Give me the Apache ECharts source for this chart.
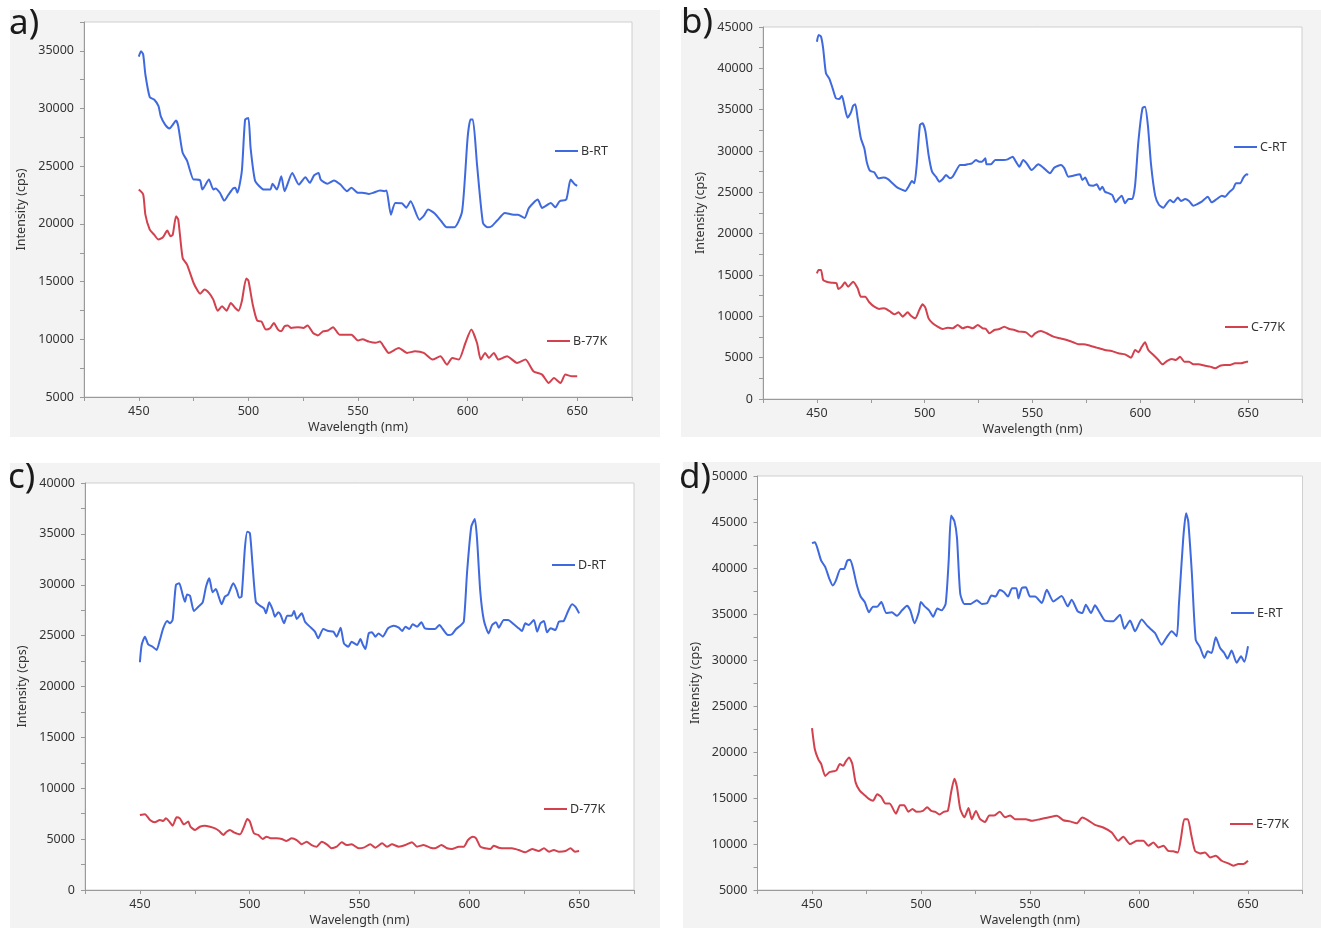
<!DOCTYPE html>
<html><head><meta charset="utf-8">
<script src="https://cdn.jsdelivr.net/npm/echarts@6/dist/echarts.min.js"></script>
<style>html,body{margin:0;padding:0;background:#fff}#c{width:1321px;height:928px}</style>
</head><body><div id="c"></div>
<script>
// ---- data: [wavelength (nm), intensity (cps)] ----
const B_RT = [[450,34500],[451,34970],[452,34680],[453,32950],[455,30990],[457,30780],[459,30200],[460,29340],[462,28610],[464,28270],[465,28470],[467,28960],[468,28470],[470,26160],[472,25490],[475,23840],[476,23840],[478,23770],[479,22980],[482,23840],[484,22980],[485,23070],[487,22700],[489,22020],[491,22560],[493,23070],[494,23130],[495,22700],[497,24570],[498.5,29040],[500,29180],[501,26590],[503,23770],[505,23270],[507,22980],[510,22980],[511,23480],[513,22980],[515,24140],[516.5,22840],[520,24420],[523,23410],[526,24050],[528,23560],[530,24220],[532,24420],[533,23840],[536,23480],[539,23770],[542,23410],[545,22840],[547,23130],[550,22700],[552,22700],[555,22600],[557,22700],[560,22900],[562,22840],[563,22900],[565,20800],[567,21820],[570,21800],[572,21400],[574,21970],[578,20370],[580,20700],[582,21240],[585,20900],[588,20230],[590.5,19710],[594,19710],[597.5,21100],[600,27460],[601.3,29040],[602.4,29040],[604.3,25140],[607,20090],[609,19710],[611,19800],[613.5,20290],[617,20950],[621,20800],[623,20800],[626,20520],[628,21390],[632,22110],[634,21390],[638,21820],[640,21440],[642,21970],[645,22110],[647,23840],[649,23410],[650,23300]];
const B_77K = [[450,22980],[452,22560],[453,20810],[455,19510],[457,19070],[459,18640],[461,18840],[463,19420],[464.5,18930],[465.5,19070],[467,20670],[468,20380],[470,17050],[472,16470],[475,14880],[477,14160],[478,13950],[480,14310],[482,14020],[484,13440],[486,12480],[488,12860],[490,12480],[492,13150],[494,12710],[495.5,12480],[497,13290],[499,15260],[500,15090],[502,13000],[504,11620],[506,11530],[508,10840],[510,10980],[511.6,11420],[513.5,10840],[515,10690],[516.5,11130],[518,11200],[519.5,10980],[522.6,11050],[525,10980],[527,11200],[529.5,10550],[531.7,10340],[534,10690],[536.3,10760],[538.6,11050],[541.6,10400],[544.7,10400],[547,10400],[550,9900],[552,10000],[555,9800],[558,9700],[560,9800],[562,9300],[564,8820],[568.6,9250],[572.4,8820],[576,8960],[580,8820],[584,8240],[587.6,8530],[590.6,7800],[593,8390],[596,8240],[599,9680],[601.7,10840],[604.3,9680],[606,8240],[608,8820],[609.7,8390],[612,8820],[614,8240],[618,8530],[622.6,7950],[626.4,8240],[630,7230],[634,6940],[637,6210],[639.4,6650],[642.4,6210],[644.6,6940],[647.7,6790],[650,6790]];
const C_RT = [[450,43220],[450.8,44030],[451.9,43830],[452.9,42420],[454.2,39400],[455.7,38790],[457.3,37580],[458.8,36380],[460.4,36300],[461.6,36690],[462.7,35570],[464.2,34030],[465.8,34680],[466.8,35480],[467.8,35650],[468.9,33960],[470.4,31540],[472,30330],[473.1,28710],[474.6,27620],[476.6,27420],[478.6,26700],[480.8,26780],[482.8,26620],[485.1,26090],[487.4,25560],[489.8,25280],[491,25160],[492.5,25680],[494.1,26370],[495.2,26090],[496.3,28310],[497.8,33150],[499,33350],[500.3,32420],[501.8,29520],[503.4,27500],[505.2,26890],[506.8,26290],[508.3,26580],[509.9,27100],[511.7,26700],[513,26900],[514.5,27580],[516.4,28310],[518.4,28310],[519.9,28390],[521.9,28510],[523.8,28910],[525.3,28710],[526.6,28710],[528.1,29120],[528.7,28390],[530.7,28390],[532.7,28910],[534.6,28910],[536.5,28910],[538.5,28990],[540.8,29310],[542.3,28710],[543.9,28100],[545.7,28910],[547.3,28510],[549.6,27700],[552.7,28390],[555,27990],[558.1,27300],[560.1,27990],[563.2,28310],[564.8,27900],[566.6,26890],[568.9,27010],[572,27180],[573.1,26490],[574.4,26780],[576.2,25890],[578.2,25810],[579.8,25970],[581.3,25280],[582.4,25680],[583.6,25080],[585.5,24880],[587,24680],[588.6,23790],[589.8,24190],[591.4,24600],[592.9,23670],[594.5,24190],[596.3,24190],[597.6,25890],[599.1,31130],[601,35170],[602.2,35360],[603.5,33150],[605,28310],[606.9,24600],[608.7,23470],[610.7,23150],[612.3,23670],[613.8,24070],[615.4,23790],[617.4,24360],[618.9,23950],[620.8,24190],[622.6,23950],[624.6,23390],[626.2,23550],[628.5,23870],[631.3,24470],[633.1,23790],[635.5,24190],[637.8,24600],[639.3,24470],[641.2,25000],[643.2,25490],[644.3,26090],[646.3,26090],[647.8,26780],[649.4,27180],[650,27100]];
const C_77K = [[450,15200],[450.8,15600],[451.9,15600],[452.9,14400],[454.5,14190],[456.8,14070],[459.1,13990],[459.9,13310],[461.5,13590],[463,14110],[464.5,13590],[466.8,14190],[468.9,13390],[470.4,12380],[472.4,12380],[474.3,11700],[476.6,11170],[478.9,10900],[481.2,10970],[483.6,10650],[485.9,10240],[487.9,10480],[489.8,9960],[492.1,10480],[493.6,10080],[495.6,9760],[497.5,10770],[499,11450],[500.3,11050],[501.8,9760],[503.7,9150],[506,8750],[508.3,8470],[510.6,8630],[513,8550],[515.3,8950],[517.6,8550],[519.9,8750],[522.3,8550],[524.6,8950],[526.9,8550],[528.4,8470],[530,7950],[532.3,8350],[534.6,8470],[536.9,8750],[539.3,8470],[541.6,8350],[543.9,8150],[547,8060],[549.6,7540],[551.2,7950],[553.9,8230],[556.6,7950],[559.7,7540],[562.8,7340],[565.9,7140],[568.9,6860],[571.3,6620],[573.6,6620],[576.7,6450],[579.8,6210],[583.6,5930],[586.7,5810],[589.8,5530],[592.9,5400],[595.7,5000],[597.6,5930],[599.1,5650],[600.7,6330],[602.2,6860],[603.7,5930],[606.1,5320],[608.4,4720],[610.3,4190],[612.3,4590],[614.6,4840],[616.5,4720],[618.4,5120],[620.4,4520],[622.6,4520],[624.6,4190],[626.9,4190],[630,4030],[632.4,3920],[634.7,3710],[637,4030],[639.3,4110],[641.6,4110],[643.9,4310],[646.7,4310],[649.4,4520],[650,4500]];
const D_RT = [[450,22380],[450.8,24080],[452.3,24900],[453.8,24140],[455.8,23910],[457.6,23590],[459.1,24570],[460.6,25720],[462.4,26440],[463.7,26210],[464.9,26540],[466.4,29980],[467.9,30140],[469.5,28990],[470.5,28330],[471.5,29050],[472.8,28920],[474.6,27420],[476.6,27840],[478.6,28270],[480.1,29810],[481.6,30630],[483.1,29260],[484.6,29590],[485.9,28830],[487.2,28080],[488.7,28830],[490.2,29050],[492.5,30140],[494.1,29480],[495.2,28720],[496.3,28830],[497.8,33580],[498.9,35220],[500.1,35060],[501.3,31940],[502.8,28330],[504.7,27940],[506.5,27680],[507.4,27190],[508.9,28270],[510.5,27520],[511.5,26860],[513,27290],[514.1,27030],[515.6,26210],[517.1,26960],[519.1,26960],[520.2,27420],[521.4,26640],[523.7,27190],[525.2,26370],[527.4,25880],[529.7,25390],[531.2,24740],[533.5,25650],[535.8,25460],[538.1,25390],[539.6,24900],[541.4,25780],[542.9,24240],[544.9,23910],[546.4,24410],[548.9,24080],[550.4,24670],[551.6,24080],[552.7,23690],[554.2,25220],[555.7,25320],[557.2,24900],[558.7,25220],[560.6,24900],[563,25720],[565.6,25980],[567.9,25780],[569.4,25460],[570.9,25880],[572.7,25650],[574.2,26110],[576.2,25880],[578.2,26310],[579.7,25720],[581.8,25650],[584.3,25650],[586.4,26050],[587.9,25650],[590.3,25060],[592.1,25130],[594,25650],[595.9,25980],[597.5,26370],[599,31280],[600.9,35700],[602.5,36460],[603.5,34580],[605,29320],[606.6,26540],[608.8,25220],[610.4,26050],[612.2,26310],[613.4,25780],[615.7,26540],[617.7,26540],[620.3,26110],[622.5,25720],[624,25460],[625.5,26210],[627.1,26050],[629.4,26540],[630.9,25390],[632.4,26210],[634,26440],[635.4,25320],[637,25720],[639.2,25550],[640.8,26370],[643,26440],[645,27420],[646.8,28080],[648.3,27840],[650,27190]];
const D_77K = [[450,7370],[452.3,7440],[454.6,6880],[456.8,6650],[459.1,6880],[460.6,6780],[461.8,7040],[463.4,6720],[464.9,6320],[466.7,7140],[468.2,7040],[470,6450],[472,6720],[473,6220],[475.1,5900],[477.3,6220],[479.6,6320],[481.9,6220],[484.2,6060],[486.1,5800],[488,5410],[489.5,5730],[491,5900],[492.8,5670],[495.6,5480],[497.4,6220],[498.9,6980],[500.1,6720],[501.9,5570],[503.9,5410],[505.9,5010],[507.7,5240],[509.5,5080],[512.3,5080],[514.6,5010],[516.8,4820],[519.1,5080],[521.4,4910],[523.7,4490],[525.9,4750],[528.2,4420],[530.5,4260],[532.8,4750],[535.1,4490],[537.3,4100],[539.6,4260],[541.9,4690],[544.2,4420],[546.4,4490],[549.6,4100],[551.9,4160],[554.9,4490],[557.2,4160],[560.3,4590],[562.5,4260],[564.8,4490],[567.9,4260],[570.9,4420],[573.9,4690],[576.2,4260],[579.2,4420],[582.3,4160],[584.5,4100],[587.3,4420],[589.9,4100],[592.1,4030],[595.2,4260],[597.5,4260],[599.4,4910],[601.6,5240],[603.1,5080],[605,4260],[607.3,4100],[609.6,4030],[611.1,4360],[613.4,4160],[616.4,4100],[619.4,4100],[622.5,3930],[625.5,3700],[628.6,4030],[631.6,3830],[634,4100],[636.3,3770],[638.5,3930],[640.8,3770],[643.8,3830],[646.1,4100],[648.1,3770],[650,3830]];
const E_RT = [[450,42700],[451.3,42800],[452.3,42300],[454.2,40800],[456.1,40100],[458,38800],[459.5,38100],[460.9,38600],[463.1,39900],[464.7,39900],[466.2,40800],[467.5,40900],[468.9,39900],[470.4,38300],[472.3,36900],[474.2,36300],[476.1,35200],[478,35800],[479.9,35800],[481.8,36300],[484.1,35100],[486.6,35200],[489,34800],[491.3,35400],[493.6,35900],[495.1,35400],[497,34000],[499,35200],[499.9,36300],[501.8,35800],[503.7,35400],[505.6,34700],[507.5,35600],[509.4,35400],[511.3,36100],[512.7,40800],[513.8,45700],[515.3,45100],[516.5,43300],[518,37200],[519.9,36100],[522.8,36100],[525.6,36500],[527.9,36100],[530.4,36200],[532.3,37000],[534.2,36900],[536.1,37600],[538,37400],[539.9,36900],[541.8,37800],[543.7,37800],[544.7,36700],[546.2,37800],[548.1,37900],[550,36900],[552.3,36900],[555.4,36200],[557.7,37640],[560.7,36370],[564.5,36950],[567.3,35830],[569.1,36550],[571.9,35280],[574,35100],[575.6,36010],[578,35100],[579.8,35940],[581.7,35280],[584.4,34280],[588.2,34210],[591.3,34930],[593.3,33410],[595.9,34280],[598.2,33120],[601.2,34390],[604,33660],[607.3,32940],[610.4,31670],[612.7,32470],[615,33120],[617.3,32580],[618.3,36010],[620.3,43240],[621.6,45950],[622.6,45050],[624.2,39620],[626,32220],[628,31380],[630,30220],[631.5,30940],[633.3,30760],[635.2,32470],[637.2,31300],[639.1,30760],[640.6,30150],[642.5,31020],[644.8,29690],[646.8,30400],[648.3,29800],[650,31490]];
const E_77K = [[450,22600],[451.3,20300],[452.9,19200],[454.2,18700],[456.1,17400],[458,17800],[459.9,17900],[461.2,18000],[462.8,18700],[464.3,18500],[465.6,19000],[467,19400],[468.5,18700],[470,16700],[471.9,15800],[474.2,15300],[476.1,14900],[478,14700],[479.9,15400],[481.8,15100],[483.7,14400],[485.6,14400],[488.5,13300],[490.4,14200],[492.3,14200],[494.2,13500],[496.1,13800],[498,13500],[500.9,13600],[502.8,14000],[504.7,13600],[506.6,13500],[508.5,13200],[510.4,13500],[512.3,13600],[513.8,15600],[515.3,17100],[516.5,16200],[518,13800],[519.9,12900],[521.8,13900],[523.3,12700],[525.2,13600],[527.1,12700],[529.4,12400],[531.3,13100],[533.6,13100],[536.1,13500],[538.6,12900],[540.9,13100],[543.1,12700],[545.6,12700],[548.1,12700],[550.8,12520],[554.6,12700],[558.4,12880],[562.3,13060],[565.3,12580],[568.3,12460],[571.4,12250],[574,12880],[576.7,12580],[579.8,12080],[583.6,11790],[587.5,11250],[590.5,10350],[592.8,10780],[595.9,9990],[599,10350],[602,10350],[604.3,9800],[606.6,10170],[608.9,9630],[611.2,9800],[613.4,9260],[615.7,9200],[617.8,9080],[619.3,10710],[620.8,12700],[622.4,12700],[623.9,11070],[625.7,9260],[628,8980],[630.3,9080],[632.6,8540],[635.2,8720],[637.9,8180],[641,7890],[643.3,7640],[645.6,7820],[647.9,7820],[650,8180]];

const PANEL_LABELS = ['a)', 'b)', 'c)', 'd)'];
const SERIES_NAMES = [['B-RT', 'B-77K'], ['C-RT', 'C-77K'], ['D-RT', 'D-77K'], ['E-RT', 'E-77K']];
const SERIES_DATA = [[B_RT, B_77K], [C_RT, C_77K], [D_RT, D_77K], [E_RT, E_77K]];
const X_TICK_LABELS = [450, 500, 550, 600, 650];
const Y_MIN = [5000, 0, 0, 5000];
const Y_MAX = [37500, 45000, 40000, 50000];
const X_NAME = 'Wavelength (nm)';
const Y_NAME = 'Intensity (cps)';

// ---- layout ----
const FONT = 'Noto Sans, Open Sans, sans-serif';
const BLUE = '#3f69de', RED = '#d3414e';
const GRIDS = [
  {left: 84, top: 22, width: 548, height: 375},
  {left: 763, top: 27, width: 539, height: 372},
  {left: 85, top: 483, width: 549, height: 407},
  {left: 757.5, top: 476, width: 545, height: 415}
];
const PANEL_BG = [
  [10, 10, 650, 427], [681, 10, 640, 427], [10, 463, 650, 465], [683, 462, 638, 466]
];
const LABEL_POS = [[9, 7], [681, 6], [8, 461], [679, 461]];
const LEGEND_POS = [
  [[555, 151], [547, 341]],
  [[1234, 147], [1225, 327]],
  [[552, 565], [544, 809]],
  [[1231, 613], [1230, 824]]
];

const axisCol = '#9a9a9a';
const txt = {fontSize: 12.5, color: '#333', fontFamily: FONT};

const option = {
  animation: false,
  backgroundColor: '#ffffff',
  graphic: {elements: PANEL_BG.map(r => ({
    type: 'rect', z: -100, silent: true,
    shape: {x: r[0], y: r[1], width: r[2], height: r[3]},
    style: {fill: '#f3f3f3'}
  }))},
  title: PANEL_LABELS.map((t, i) => ({
    text: t, left: LABEL_POS[i][0], top: LABEL_POS[i][1], padding: 0,
    textStyle: {fontSize: 35, fontWeight: 'normal', color: '#1a1a1a', fontFamily: FONT}
  })),
  grid: GRIDS.map(g => Object.assign({show: true, backgroundColor: '#ffffff', borderColor: '#cfcfcf', borderWidth: 1, containLabel: false}, g)),
  xAxis: GRIDS.map((g, i) => ({
    type: 'value', gridIndex: i, min: 425, max: 675, interval: 25,
    axisLine: {show: true, lineStyle: {color: axisCol}},
    axisTick: {show: true, length: 4, lineStyle: {color: axisCol}},
    splitLine: {show: false},
    axisLabel: Object.assign({margin: 8, formatter: v => X_TICK_LABELS.includes(v) ? String(v) : ''}, txt),
    name: X_NAME, nameLocation: 'middle', nameGap: 24, nameTextStyle: txt
  })),
  yAxis: GRIDS.map((g, i) => ({
    type: 'value', gridIndex: i, min: Y_MIN[i], max: Y_MAX[i], interval: 2500,
    axisLine: {show: true, lineStyle: {color: axisCol}},
    axisTick: {show: true, length: 4, lineStyle: {color: axisCol}},
    splitLine: {show: false},
    axisLabel: Object.assign({margin: 10, formatter: v => (v % 5000 === 0) ? String(v) : ''}, txt),
    name: Y_NAME, nameLocation: 'middle', nameGap: 56, nameTextStyle: txt
  })),
  legend: [],
  series: []
};

SERIES_DATA.forEach((pair, i) => {
  pair.forEach((d, k) => {
    const col = k === 0 ? BLUE : RED;
    option.series.push({
      type: 'line', name: SERIES_NAMES[i][k], xAxisIndex: i, yAxisIndex: i,
      data: d, symbol: 'none', showSymbol: false, smooth: 0.2,
      lineStyle: {color: col, width: 2}, itemStyle: {color: col}
    });
    option.legend.push({
      data: [SERIES_NAMES[i][k]], left: LEGEND_POS[i][k][0], top: LEGEND_POS[i][k][1] - 8,
      padding: 0, icon: 'rect', itemWidth: 23, itemHeight: 2, selectedMode: false,
      textStyle: Object.assign({lineHeight: 16, padding: [0, 0, 0, -2]}, txt)
    });
  });
});

const chart = echarts.init(document.getElementById('c'));
chart.setOption(option);
</script>
</body></html>
